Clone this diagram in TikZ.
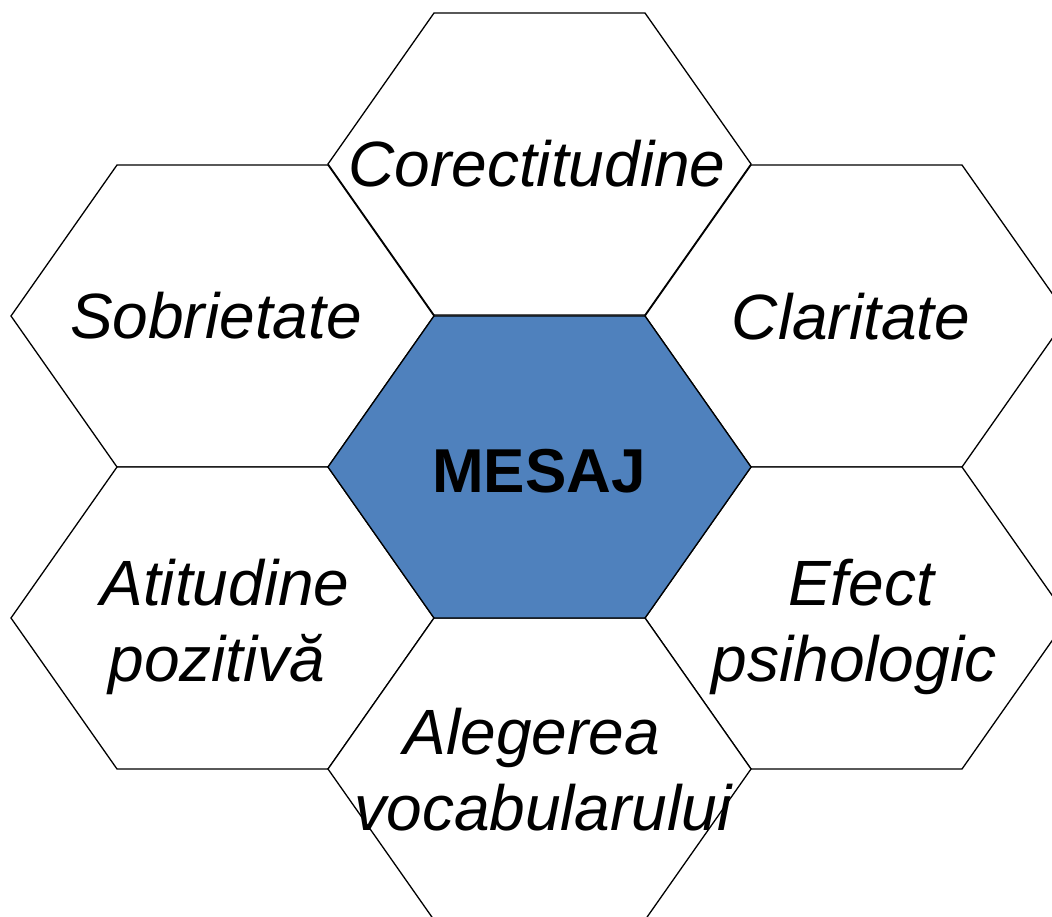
\documentclass[tikz,border=0pt]{standalone}
\usepackage{fontspec}
\setmainfont{Liberation Sans}
\definecolor{hexblue}{RGB}{79,129,189}
\begin{document}
\begin{tikzpicture}[x=1pt,y=-1pt,
  hexa/.style={draw=black,line width=1.3pt,line join=miter,fill=white},
  lbl/.style={inner sep=0pt,anchor=base,font=\fontsize{64}{76}\selectfont\itshape}]
\useasboundingbox (0,0) rectangle (1052,917);
\clip (0,0) rectangle (1052,917);
\newcommand\hexpath[2]{(#1,#2) ++(-211,0) -- ++(106,-151) -- ++(211,0) -- ++(106,151) -- ++(-106,151) -- ++(-211,0) -- cycle}
\coordinate (cT) at (539,164);
\coordinate (cLT) at (222,316);
\coordinate (cRT) at (856,316);
\coordinate (cC) at (539,467);
\coordinate (cLB) at (222,618);
\coordinate (cRB) at (856,618);
\coordinate (cB) at (539,769);
\draw[hexa] \hexpath{539}{164};
\draw[hexa] \hexpath{222}{316};
\draw[hexa] \hexpath{856}{316};
\draw[hexa] \hexpath{222}{618};
\draw[hexa] \hexpath{856}{618};
\draw[hexa] \hexpath{539}{769};
\draw[hexa,fill=hexblue] \hexpath{539}{467};
\node[lbl] (tT) at (537,187) {Corectitudine};
\node[lbl] (tLT) at (216,338) {Sobrietate};
\node[lbl] (tRT) at (851,339) {Claritate};
\node[lbl,font=\fontsize{62}{76}\selectfont\bfseries] (tC) at (539,492) {MESAJ};
\node[lbl] (tLB1) at (225,605) {Atitudine};
\node[lbl] (tLB2) at (217,681) {pozitivă};
\node[lbl] (tRB1) at (861,605) {Efect};
\node[lbl] (tRB2) at (854,681) {psihologic};
\node[lbl] (tB1) at (532,754) {Alegerea};
\node[lbl] (tB2) at (543,830) {vocabularului};
\end{tikzpicture}
\end{document}
